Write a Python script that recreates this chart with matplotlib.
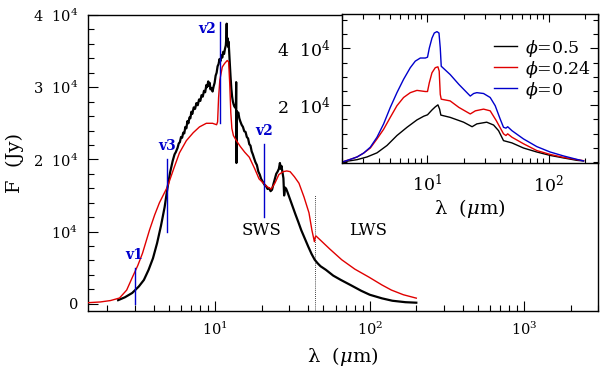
import matplotlib
matplotlib.use("Agg")
import matplotlib.pyplot as plt
from matplotlib.ticker import FixedLocator, NullFormatter, LogLocator, MultipleLocator
import numpy as np

plt.rcParams['font.family'] = ['DejaVu Serif']
plt.rcParams['mathtext.fontset'] = 'dejavuserif'

# ---------------- main panel data ----------------
obs_lam = [2.35, 2.6, 2.9, 3.2, 3.45, 3.7, 3.95, 4.2, 4.45, 4.7,
           4.9, 5.1, 5.3, 5.45, 5.55, 5.7, 5.8, 5.9, 6.0, 6.1,
           6.2, 6.3, 6.4, 6.5, 6.6, 6.7, 6.8, 6.9, 7.0, 7.1,
           7.25, 7.4, 7.55, 7.7, 7.85, 8.0, 8.15, 8.3, 8.45, 8.6,
           8.75, 8.85, 9.0, 9.1, 9.2, 9.3, 9.45, 9.6, 9.75, 9.9,
           10.05, 10.2, 10.35, 10.5, 10.65, 10.8, 10.95, 11.1, 11.25, 11.4,
           11.55, 11.7, 11.8, 11.85, 11.9, 12.0, 12.1, 12.2, 12.3, 12.4,
           12.55, 12.7, 12.85, 13.0, 13.15, 13.3, 13.45, 13.6, 13.65, 13.7,
           13.75, 13.9, 14.1, 14.3, 14.5, 14.8, 15.1, 15.4, 15.7, 16.0,
           16.3, 16.6, 16.9, 17.2, 17.5, 17.8, 18.2, 18.6, 19.0, 19.4,
           19.8, 20.3, 20.8, 21.3, 21.8, 22.3, 22.8, 23.3, 23.8, 24.3,
           24.8, 25.3, 25.8, 26.2, 26.5, 26.8, 27.2, 27.6, 27.9, 28.3,
           28.8, 29.4, 30.2, 31.0, 32.0, 33.0, 34.5, 36.0, 38.0, 40.0,
           42.0, 44.0, 46.0, 48.0, 52.0, 58.0, 65.0, 75.0, 88.0, 100.0,
           120.0, 140.0, 170.0, 200.0]
obs_F = [500, 900, 1500, 2400, 3300, 4700, 6300, 8400, 10800, 13400,
         16000, 18200, 19800, 20700, 21000, 21600, 22200, 22400, 23100, 23000,
         23700, 23600, 24500, 24300, 25300, 25000, 25800, 25700, 26600, 26300,
         27200, 27000, 27800, 27500, 28300, 28100, 28900, 28700, 29500, 29300,
         30300, 30000, 30800, 30200, 30600, 29700, 29900, 29400, 30100, 30600,
         31600, 32000, 32900, 33200, 33900, 33600, 34400, 34100, 34900, 34600,
         35300, 35800, 37000, 38800, 36000, 36800, 35600, 36300, 34800, 33500,
         31500, 29800, 28700, 28000, 27600, 27300, 27400, 27000, 30700, 19500,
         26700, 26300, 26500, 25700, 25300, 24800, 24500, 23900, 23800, 23100,
         22900, 22100, 21900, 21100, 20700, 20200, 19600, 19200, 18300, 17900,
         17300, 16900, 16500, 16300, 15900, 16000, 15600, 15800, 16600, 17300,
         18000, 18300, 18700, 19500, 18700, 19100, 18200, 17400, 15000, 16100,
         15900, 15400, 14700, 14000, 13200, 12400, 11300, 10200, 9000, 7900,
         6900, 6100, 5600, 5200, 4700, 3900, 3300, 2600, 1800, 1250,
         750, 420, 220, 150]

mod_lam = [1.5, 1.8, 2.1, 2.4, 2.67, 2.91, 3.15, 3.38, 3.75, 4.05,
           4.35, 4.9, 5.4, 5.86, 6.5, 7.2, 7.9, 8.75, 9.6, 10.2,
           10.35, 10.5, 10.7, 11.1, 11.5, 11.95, 12.2, 12.4, 12.6, 12.8,
           13.1, 13.6, 14.5, 15.5, 16.6, 18.0, 19.2, 20.5, 21.7, 23.0,
           24.3, 25.8, 27.5, 29.0, 30.5, 32.5, 34.8, 37.5, 40.4, 42.2,
           43.8, 44.3, 44.8, 48.0, 55.0, 65.8, 80.0, 98.6, 120.0, 138.0,
           165.0, 200.0]
mod_F = [150, 250, 450, 800, 1900, 3700, 5300, 7000, 10200, 12300,
         14000, 16200, 18800, 20900, 22600, 23700, 24500, 25000, 25000, 24800,
         25200, 28500, 31000, 32800, 33300, 33700, 33500, 30500, 26500, 24300,
         23300, 22700, 21800, 21000, 20300, 18700, 17300, 16700, 16200, 15900,
         16700, 17900, 18300, 18400, 18300, 17600, 16700, 14800, 12600, 10200,
         8600, 9200, 9400, 8800, 7600, 6100, 4800, 3700, 2600, 1900,
         1250, 780]

# vertical markers
mark_lam = [3.0, 4.9, 10.8, 20.7]
mark_lo = [0, 10000, 25000, 12000]
mark_hi = [5000, 20000, 39000, 22200]
mark_lab = ["v1", "v3", "v2", "v2"]
mark_lab_lam = [3.0, 4.9, 8.8, 20.7]
mark_lab_F = [6800, 21800, 38000, 23900]

sws_lws_lam = 44.5
region_lab = ["SWS", "LWS"]
region_lam = [19.8, 97.0]
region_F = [10200, 10200]

# ---------------- inset data ----------------
ins_lam_b = [2.02, 2.34, 2.66, 3.01, 3.42, 3.88, 4.40, 4.99, 5.66, 6.42,
             7.29, 8.01, 8.81, 9.69, 10.1, 10.45, 10.99, 11.48, 12.08, 12.55,
             12.86, 13.1, 15.5, 18.3, 22.7, 24.2, 25.7, 29.2, 33.1, 36.4,
             40.0, 42.6, 44.6, 46.1, 50.0, 62.2, 80.0, 103.0, 133.0, 171.0,
             194.0]
ins_F_b = [0, 900, 1750, 3100, 5200, 8700, 13400, 19200, 24400, 29100,
           33200, 35500, 36600, 36600, 36900, 40100, 43600, 45400, 45900, 45400,
           40100, 33700, 30800, 27300, 23200, 24100, 24400, 24100, 22700, 19800,
           15100, 12200, 11900, 12400, 11000, 8100, 5400, 3500, 2100, 900,
           350]
ins_lam_r = [2.02, 2.34, 2.66, 3.01, 3.42, 3.88, 4.40, 4.99, 5.66, 6.42,
             7.29, 8.27, 9.69, 10.1, 10.45, 10.99, 11.7, 12.3, 12.6, 12.86,
             13.1, 15.5, 18.3, 22.7, 25.0, 29.2, 33.1, 37.2, 42.6, 44.6,
             46.1, 50.0, 62.2, 80.0, 103.0, 133.0, 171.0, 194.0]
ins_F_r = [0, 900, 1750, 3100, 4900, 8100, 11500, 15700, 19800, 22700,
           24400, 25200, 24800, 24800, 27900, 31400, 33200, 33500, 32000, 23800,
           22100, 21500, 19200, 16900, 18000, 18600, 18000, 14500, 9900, 9300,
           9900, 8700, 6400, 4000, 2650, 1600, 800, 450]
ins_lam_k = [2.02, 2.66, 3.21, 3.88, 4.69, 5.66, 6.85, 8.27, 9.4, 10.1,
             10.99, 11.7, 12.3, 12.7, 13.0, 15.5, 20.0, 23.5, 25.7, 31.0,
             35.3, 38.8, 42.6, 50.0, 62.2, 80.0, 103.0, 133.0, 171.0, 194.0]
ins_F_k = [0, 800, 1750, 3200, 5800, 9300, 12200, 14800, 16100, 16600,
           18300, 19400, 20100, 18600, 16500, 15700, 14000, 12400, 13400, 14000,
           13000, 11000, 7500, 6700, 4900, 3500, 2300, 1400, 560, 350]
ins_labels = [r"$\phi$=0.5", r"$\phi$=0.24", r"$\phi$=0"]

# ---------------- figure ----------------
fig = plt.figure(figsize=(6.0, 3.77), dpi=100)
W, H = 600.0, 377.0
ax = fig.add_axes([88 / W, 1 - 311 / H, (598 - 88) / W, (311 - 15) / H])

ax.plot(obs_lam, obs_F, color='black', lw=1.6, zorder=3)
ax.plot(mod_lam, mod_F, color='#e00000', lw=1.0, zorder=4)
for lam, lo, hi in zip(mark_lam, mark_lo, mark_hi):
    ax.plot([lam, lam], [lo, hi], color='#0000cc', lw=1.0, zorder=5)
ax.plot([sws_lws_lam, sws_lws_lam], [-1000, 15000], color='black', lw=0.6,
        ls=(0, (1, 1.5)), zorder=2)

for lx, ly, t in zip(mark_lab_lam, mark_lab_F, mark_lab):
    ax.text(lx, ly, t, color='#0000cc', fontsize=10, fontweight='bold',
            ha='center', va='center', zorder=6)
for lx, ly, t in zip(region_lam, region_F, region_lab):
    ax.text(lx, ly, t, fontsize=12, ha='center', va='center')

ax.set_xscale('log')
ax.set_xlim(1.5, 3000)
ax.set_ylim(-1000, 40000)
ax.xaxis.set_major_locator(FixedLocator([10, 100, 1000]))
ax.set_xticklabels([r"$10^1$", r"$10^2$", r"$10^3$"])
ax.xaxis.set_minor_locator(LogLocator(base=10, subs=np.arange(2, 10)))
ax.xaxis.set_minor_formatter(NullFormatter())
ax.yaxis.set_major_locator(FixedLocator([0, 10000, 20000, 30000, 40000]))
ax.set_yticklabels(["0", r"$10^4$", r"2  $10^4$", r"3  $10^4$", r"4  $10^4$"])
ax.yaxis.set_minor_locator(MultipleLocator(2000))
ax.tick_params(which='both', direction='in', top=False, right=False, labelsize=10.5)
ax.tick_params(which='major', length=7, width=0.8, pad=7)
ax.tick_params(which='minor', length=4, width=0.8)
ax.set_xlabel(r"λ  ($\mu$m)", fontsize=14, labelpad=5)
ax.set_ylabel("F  (Jy)", fontsize=14, labelpad=6)
for s in ax.spines.values():
    s.set_linewidth(1.0)

# ---------------- inset ----------------
ax2 = fig.add_axes([342 / W, 1 - 162.5 / H, (598 - 342) / W, (162.5 - 14.3) / H])
ax2.plot(ins_lam_k, ins_F_k, color='black', lw=1.0, label=ins_labels[0])
ax2.plot(ins_lam_r, ins_F_r, color='#e00000', lw=1.0, label=ins_labels[1])
ax2.plot(ins_lam_b, ins_F_b, color='#0000cc', lw=1.0, label=ins_labels[2])
ax2.set_xscale('log')
ax2.set_xlim(2.0, 255)
ax2.set_ylim(-200, 52000)
ax2.xaxis.set_major_locator(FixedLocator([10, 100]))
ax2.set_xticklabels([r"$10^1$", r"$10^2$"])
ax2.xaxis.set_minor_locator(LogLocator(base=10, subs=np.arange(2, 10)))
ax2.xaxis.set_minor_formatter(NullFormatter())
ax2.yaxis.set_major_locator(FixedLocator([20000, 40000]))
ax2.set_yticklabels([r"2  $10^4$", r"4  $10^4$"])
ax2.yaxis.set_minor_locator(MultipleLocator(5000))
ax2.tick_params(which='both', direction='in', top=True, right=True, labelsize=12.5)
ax2.tick_params(which='major', length=6, width=0.8, pad=8)
ax2.tick_params(which='minor', length=3.5, width=0.8)
ax2.set_xlabel(r"λ  ($\mu$m)", fontsize=14, labelpad=1)
leg = ax2.legend(loc='upper right', bbox_to_anchor=(1.0, 0.89), frameon=False,
                 fontsize=12.5, handlelength=1.3, handletextpad=0.5,
                 labelspacing=0.0, borderaxespad=0.0)
for s in ax2.spines.values():
    s.set_linewidth(1.0)

fig.savefig("out.png", dpi=100)
